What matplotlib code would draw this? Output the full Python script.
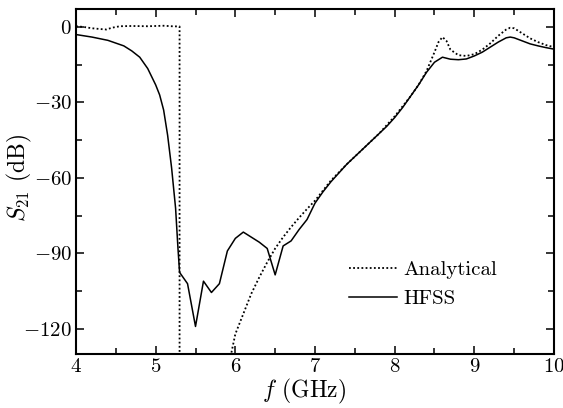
import numpy as np
import matplotlib
matplotlib.use("Agg")
import matplotlib.pyplot as plt
from matplotlib.ticker import MultipleLocator

plt.rcParams['font.family'] = 'serif'
plt.rcParams['font.serif'] = ['cmr10']
plt.rcParams['mathtext.fontset'] = 'cm'
plt.rcParams['axes.formatter.use_mathtext'] = True

# analytical model (NaN breaks the curve where it drops off the scale)
f_analytical = [4.0, 4.1, 4.2, 4.3, 4.38, 4.45, 4.55, 4.7, 4.9, 5.0, 5.1, 5.2, 5.3, 5.3,
                np.nan,
                5.94, 6.0, 6.1, 6.2, 6.3, 6.4, 6.5, 6.6, 6.7, 6.8, 6.9, 7.0,
                7.2, 7.4, 7.6, 7.8, 8.0, 8.2, 8.3, 8.4, 8.5, 8.55, 8.6, 8.65, 8.7,
                8.8, 8.9, 9.0, 9.1, 9.2, 9.3, 9.4, 9.45, 9.5, 9.6, 9.7, 9.8, 9.9, 10.0]
s21_analytical = [0.3, 0.0, -0.5, -0.8, -1.0, -0.3, 0.3, 0.4, 0.3, 0.4, 0.5, 0.3, 0.2, -140,
                  np.nan,
                  -131, -122, -114, -106, -99.5, -93.5, -88, -83.5, -79.5, -75.8, -72.3, -69,
                  -61, -54.5, -48.5, -42.5, -35.5, -27.5, -23, -17.5, -10, -6, -4, -5.5, -9,
                  -11.2, -11.5, -10.8, -9, -6.5, -3.5, -1, -0.3, -0.5, -2.5, -4.5, -6, -7.2, -8]

# full-wave simulation
f_hfss = [4.0, 4.2, 4.4, 4.6, 4.7, 4.8, 4.9, 5.0, 5.05, 5.1, 5.15, 5.2, 5.25, 5.28, 5.3,
          5.4, 5.5, 5.6, 5.7, 5.8, 5.9, 6.0, 6.1, 6.2, 6.3, 6.4, 6.5, 6.6, 6.7, 6.8,
          6.9, 7.0, 7.1, 7.2, 7.3, 7.4, 7.5, 7.6, 7.7, 7.8, 7.9, 8.0, 8.1, 8.2, 8.3,
          8.4, 8.5, 8.6, 8.7, 8.8, 8.9, 9.0, 9.1, 9.2, 9.3, 9.4, 9.45, 9.5, 9.6, 9.7,
          9.8, 9.9, 10.0]
s21_hfss = [-3, -4, -5.3, -7.5, -9.5, -12, -16.5, -23, -27, -33, -43, -56, -72, -88, -97.5,
            -102, -119, -101, -105.5, -102, -89, -84, -81.5, -83.5, -85.5, -88, -98.5, -87, -85, -80.5,
            -76.5, -70, -65.5, -61.5, -58, -54.5, -51.5, -48.5, -45.5, -42.5, -39.5, -36, -32, -27.5, -23,
            -18, -14, -12, -12.8, -13, -12.7, -11.5, -10, -8, -6, -4.3, -4, -4.3, -5.5, -6.7,
            -7.5, -8.2, -8.8]

fig = plt.figure(figsize=(5.63, 4.08), dpi=100)
ax = fig.add_axes([0.135, 0.132, 0.849, 0.845])

ax.plot(f_analytical, s21_analytical, color='black', lw=1.3, linestyle=(0, (1, 1.3)),
        label='Analytical')
ax.plot(f_hfss, s21_hfss, color='black', lw=1.1, label='HFSS')

ax.set_xlim(4, 10)
ax.set_ylim(-130, 7)
ax.xaxis.set_major_locator(MultipleLocator(1))
ax.xaxis.set_minor_locator(MultipleLocator(0.5))
ax.yaxis.set_major_locator(MultipleLocator(30))
ax.yaxis.set_minor_locator(MultipleLocator(15))
ax.tick_params(which='both', direction='in', top=True, right=True, width=1.1, labelsize=15)
ax.tick_params(which='major', length=6, pad=3)
ax.tick_params(which='minor', length=4)
for sp in ax.spines.values():
    sp.set_linewidth(1.5)

ax.set_xlabel(r'$f$ (GHz)', fontsize=17)
ax.set_ylabel(r'$S_{21}$ (dB)', fontsize=17)
ax.xaxis.set_label_coords(0.477, -0.067)
ax.yaxis.set_label_coords(-0.088, 0.512)

ax.legend(loc='lower left', bbox_to_anchor=(0.532, 0.079), frameon=False, fontsize=15,
          handlelength=2.3, handletextpad=0.3, labelspacing=0.5)

fig.savefig('out.png', dpi=100)
